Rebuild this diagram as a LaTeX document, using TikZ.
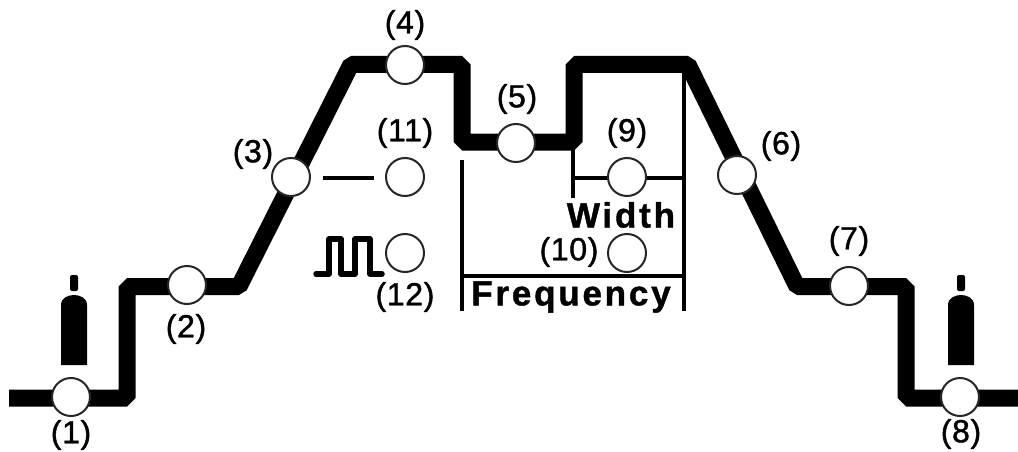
\documentclass[tikz,border=0pt]{standalone}
\usepackage{fontspec}
\setmainfont{Liberation Sans}
\newfontfamily\labf[FakeBold=1.3,LetterSpace=2]{Liberation Sans}
\newfontfamily\wideb[LetterSpace=8,FakeBold=1.2]{Liberation Sans Bold}
\tikzset{
  valve/.style={circle,draw=black!85,line width=2pt,fill=white,minimum size=38pt,inner sep=0pt},
  lab/.style={inner sep=0pt,font=\fontsize{32}{34}\selectfont\labf},
  word/.style={inner sep=0pt,font=\fontsize{35}{37}\selectfont\wideb},
  gasline/.style={line width=17pt,line join=bevel,black},
  thin/.style={line width=3.5pt,black},
  bottle/.style={fill=black,draw=none}
}
\begin{document}
\begin{tikzpicture}[x=1pt,y=-1pt]
\useasboundingbox (0,0) rectangle (1018,452);
% profile points
\coordinate (p0) at (9,398);
\coordinate (p1) at (127,398);
\coordinate (p2) at (127,286.5);
\coordinate (p3) at (239,286.5);
\coordinate (p4) at (351,64.5);
\coordinate (p5) at (462,64.5);
\coordinate (p6) at (462,142);
\coordinate (p7) at (574,142);
\coordinate (p8) at (574,64.5);
\coordinate (p9) at (688,64.5);
\coordinate (p10) at (797,286.5);
\coordinate (p11) at (906,286.5);
\coordinate (p12) at (906,398);
\coordinate (p13) at (1018,398);
\draw[gasline] (p0)--(p1)--(p2)--(p3)--(p4)--(p5)--(p6)--(p7)--(p8)--(p9)--(p10)--(p11)--(p12)--(p13);
% thin lines
\coordinate (w0) at (573,145);
\coordinate (w1) at (573,198);
\coordinate (w2) at (573,178);
\coordinate (w3) at (684,178);
\coordinate (f0) at (684,72);
\coordinate (f1) at (684,311);
\coordinate (f2) at (462,160);
\coordinate (f3) at (462,311);
\coordinate (f4) at (462,276);
\coordinate (f5) at (684,276);
\draw[thin] (w0)--(w1) (w2)--(w3) (f0)--(f1) (f2)--(f3) (f4)--(f5);
% valves
\node[valve] (v1) at (71,397) {};
\node[valve] (v2) at (187,285) {};
\node[valve] (v3) at (291,177) {};
\node[valve] (v4) at (405,65) {};
\node[valve] (v5) at (516,143) {};
\node[valve] (v6) at (737,175) {};
\node[valve] (v7) at (849,286) {};
\node[valve] (v8) at (960,397) {};
\node[valve] (v9) at (627,177) {};
\node[valve] (v10) at (627,253) {};
\node[valve] (v11) at (405,177) {};
\node[valve] (v12) at (405,253) {};
% labels
\node[lab] (l1) at (71,435) {(1)};
\node[lab] (l2) at (186,329) {(2)};
\node[lab] (l3) at (253,154) {(3)};
\node[lab] (l4) at (405,25) {(4)};
\node[lab] (l5) at (517,99) {(5)};
\node[lab] (l6) at (781,146) {(6)};
\node[lab] (l7) at (849,241) {(7)};
\node[lab] (l8) at (961,434) {(8)};
\node[lab] (l9) at (627,133) {(9)};
\node[lab] (l10) at (569,252) {(10)};
\node[lab] (l11) at (405,133) {(11)};
\node[lab] (l12) at (405,297) {(12)};
\node[word] (width) at (621,215) {Width};
\node[word] (freq) at (571,297) {Frequency};
% continuous current dash and pulse symbol
\coordinate (d0) at (323,178);
\coordinate (d1) at (374,178);
\draw[line width=4.5pt] (d0)--(d1);
\coordinate (s0) at (316,274);
\coordinate (s1) at (382,274);
\draw[line width=5.5pt,line join=round,line cap=round] (s0) -- (329,274) -- (329,239) -- (341,239) -- (341,274) -- (355,274) -- (355,239) -- (370,239) -- (370,274) -- (s1);
% gas bottles
\path[bottle] (61,365) -- (61,305) .. controls (61,298) and (68,295) .. (74,295) .. controls (80,295) and (87,298) .. (87,305) -- (87,365) -- cycle;
\path[bottle,rounded corners=2pt] (70,291) rectangle (78,275);
\path[bottle] (948,365) -- (948,305) .. controls (948,298) and (955,295) .. (961,295) .. controls (967,295) and (974,298) .. (974,305) -- (974,365) -- cycle;
\path[bottle,rounded corners=2pt] (957,291) rectangle (965,275);
\end{tikzpicture}
\end{document}
